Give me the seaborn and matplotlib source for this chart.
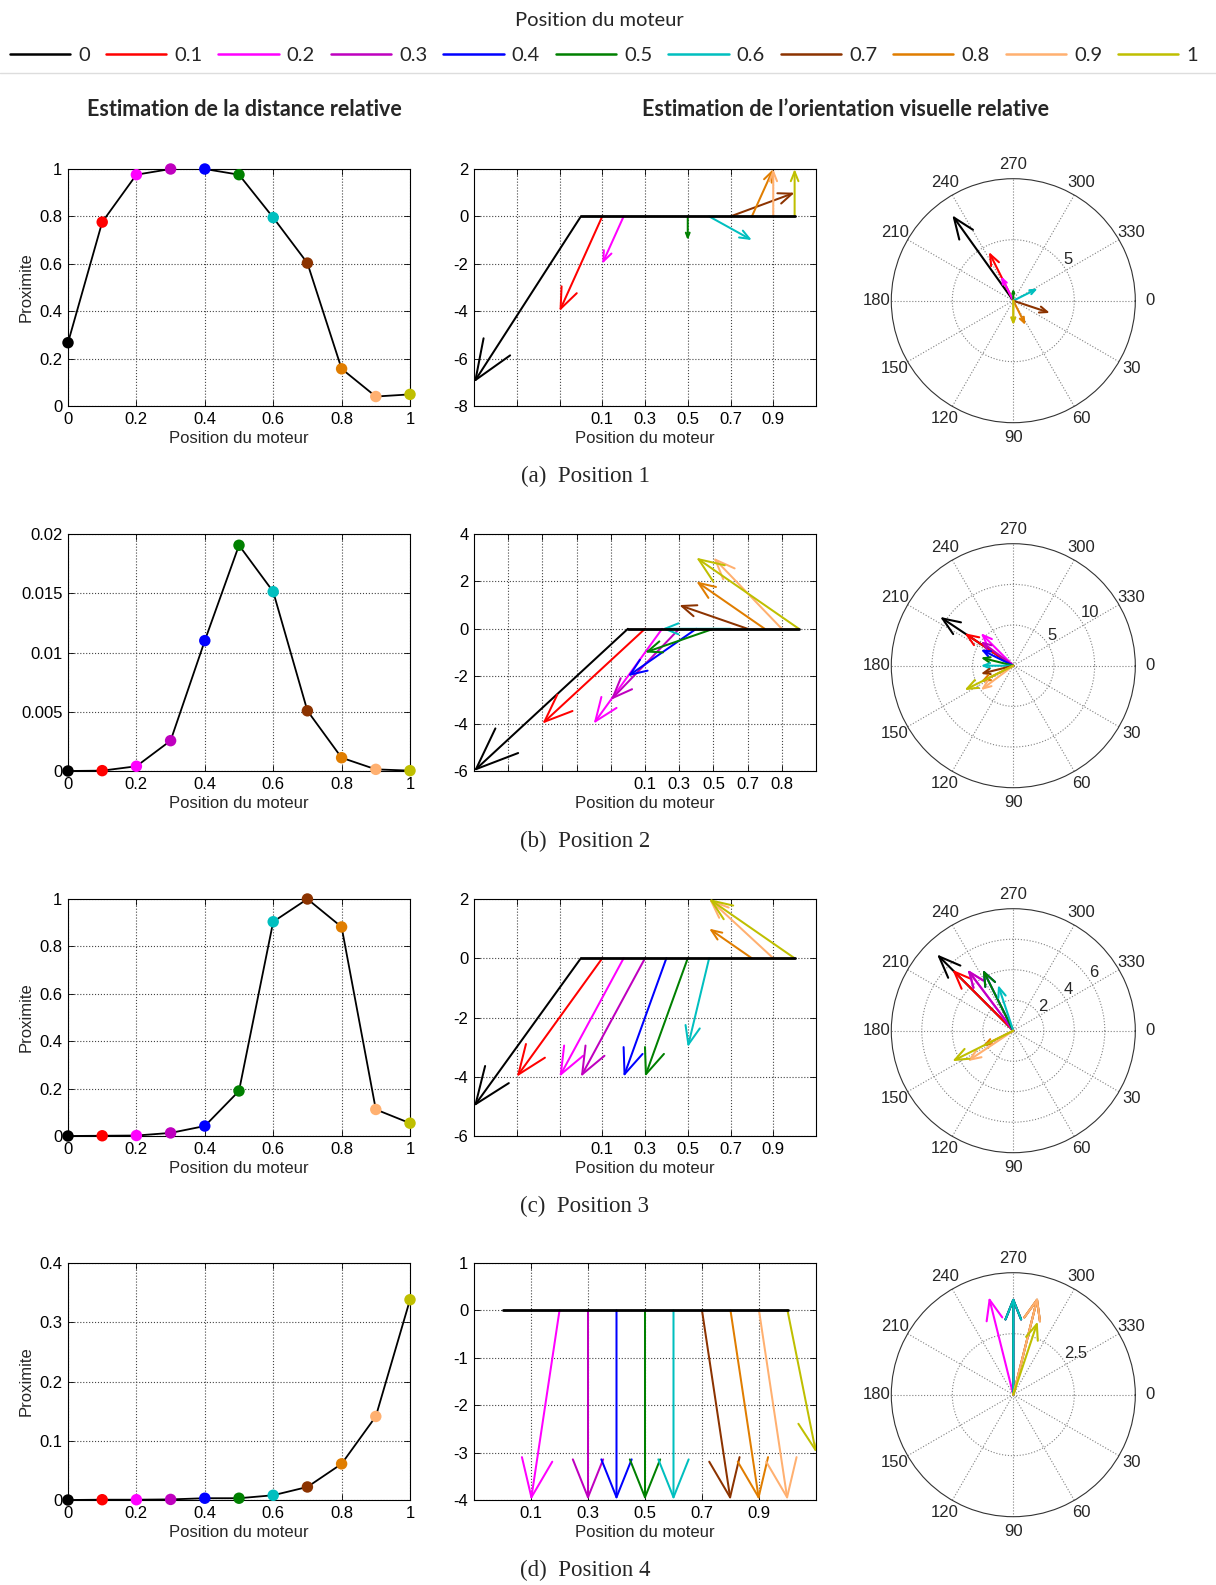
import matplotlib.pyplot as plt
import numpy as np
import seaborn as sns
from matplotlib.lines import Line2D

DPI = 100
FIG_W, FIG_H = 1216, 1585

# motor positions and their colours
positions = [0, 0.1, 0.2, 0.3, 0.4, 0.5, 0.6, 0.7, 0.8, 0.9, 1.0]
position_labels = ["0", "0.1", "0.2", "0.3", "0.4", "0.5", "0.6", "0.7", "0.8", "0.9", "1"]
colors = ["#000000", "#ff0000", "#ff00ff", "#bf00bf", "#0000ff", "#008000",
          "#00bfbf", "#8c3300", "#e07d00", "#ffb070", "#bfbf00"]

# relative distance estimation (proximity), one list per position of the target
proximity_1 = [0.267, 0.776, 0.976, 1.0, 1.0, 0.976, 0.795, 0.603, 0.157, 0.040, 0.049]
proximity_2 = [0.0, 0.00003, 0.0004, 0.00256, 0.0110, 0.01905, 0.01513, 0.00508,
               0.00112, 0.00014, 0.00003]
proximity_3 = [0.0, 0.001, 0.002, 0.013, 0.042, 0.19, 0.904, 1.0, 0.882, 0.112, 0.054]
proximity_4 = [0.0, 0.0005, 0.0005, 0.001, 0.003, 0.003, 0.008, 0.022, 0.061, 0.141, 0.338]

# relative visual orientation vectors (u lateral, v forward)
orient_u_1 = [-5, -2, -1, 0, 0, 0, 2, 3, 1, 0, 0]
orient_v_1 = [-7, -4, -2, 0, 0, -1, -1, 1, 2, 2, 2]
orient_u_2 = [-9, -6, -4, -4, -4, -4, -4, -4, -4, -4, -6]
orient_v_2 = [-6, -4, -4, -3, -2, -1, 0, 1, 2, 3, 3]
orient_u_3 = [-5, -4, -3, -3, -2, -2, -1, 0, -2, -3, -4]
orient_v_3 = [-5, -4, -4, -4, -4, -4, -3, 0, 1, 2, 2]
orient_u_4 = [0, 0, -1, 0, 0, 0, 0, 1, 1, 1, 1]
orient_v_4 = [0, 0, -4, -4, -4, -4, -4, -4, -4, -4, -3]

captions = ["(a)  Position 1", "(b)  Position 2", "(c)  Position 3", "(d)  Position 4"]

prox_ylims = [1.0, 0.02, 1.0, 0.4]
prox_yticks = [[0, 0.2, 0.4, 0.6, 0.8, 1], [0, 0.005, 0.01, 0.015, 0.02],
               [0, 0.2, 0.4, 0.6, 0.8, 1], [0, 0.1, 0.2, 0.3, 0.4]]
prox_ylabel = [True, False, True, True]

quiver_xlims = [(-0.5, 1.1), (-0.9, 1.1), (-0.5, 1.1), (-0.1, 1.1)]
quiver_ylims = [(-8, 2), (-6, 4), (-6, 2), (-4, 1)]
quiver_yticks = [[-8, -6, -4, -2, 0, 2], [-6, -4, -2, 0, 2, 4],
                 [-6, -4, -2, 0, 2], [-4, -3, -2, -1, 0, 1]]
quiver_xticks = [[-0.3, -0.1, 0.1, 0.3, 0.5, 0.7, 0.9],
                 [-0.7, -0.5, -0.3, -0.1, 0.1, 0.3, 0.5, 0.7, 0.9],
                 [-0.3, -0.1, 0.1, 0.3, 0.5, 0.7, 0.9],
                 [0.1, 0.3, 0.5, 0.7, 0.9]]
quiver_xticklabels = [["", "", "0.1", "0.3", "0.5", "0.7", "0.9"],
                      ["", "", "", "", "0.1", "0.3", "0.5", "0.7", "0.8"],
                      ["", "", "0.1", "0.3", "0.5", "0.7", "0.9"],
                      ["0.1", "0.3", "0.5", "0.7", "0.9"]]
ARROW_X_SCALE = 0.1

compass_rmax = [10, 15, 8, 5]
compass_rticks = [[5], [5, 10], [2, 4, 6], [2.5]]

AX_FONT = ["Liberation Sans", "DejaVu Sans"]
TITLE_FONT = ["Lato", "DejaVu Sans"]
SERIF_FONT = ["Liberation Serif", "DejaVu Serif"]

sns.set_style("ticks")
plt.rcParams["font.family"] = AX_FONT
plt.rcParams["axes.linewidth"] = 0.8

fig = plt.figure(figsize=(FIG_W / DPI, FIG_H / DPI), dpi=DPI)


def px_axes(left, top, width, height, **kw):
    return fig.add_axes([left / FIG_W, 1 - (top + height) / FIG_H,
                         width / FIG_W, height / FIG_H], **kw)


def draw_arrow(ax, x0, y0, x1, y1, color, lw=1.0):
    p0 = ax.transData.transform((x0, y0))
    p1 = ax.transData.transform((x1, y1))
    length_pt = np.hypot(*(p1 - p0)) * 72 / DPI
    if length_pt < 0.5:
        return
    hl = 0.2 * length_pt
    hw = 0.08 * length_pt
    ann = ax.annotate(
        "", xy=(x1, y1), xytext=(x0, y0), annotation_clip=False,
        arrowprops=dict(arrowstyle=f"->,head_length={hl:.3f},head_width={hw:.3f}",
                        color=color, lw=lw, shrinkA=0, shrinkB=0, mutation_scale=1),
        zorder=3)
    ann.arrow_patch.set_clip_box(ax.bbox)


def style_cartesian(ax):
    ax.grid(True, linestyle=":", color="#444444", linewidth=0.8)
    ax.tick_params(direction="in", length=4, width=0.6, top=True, right=True,
                   labelsize=12, pad=4, colors="black")
    for s in ax.spines.values():
        s.set_visible(True)
        s.set_linewidth(0.8)
        s.set_color("black")


row_tops = [169, 534, 899, 1263]
AX_H = 237

for i in range(4):
    top = row_tops[i]
    prox = [proximity_1, proximity_2, proximity_3, proximity_4][i]
    ou = [orient_u_1, orient_u_2, orient_u_3, orient_u_4][i]
    ov = [orient_v_1, orient_v_2, orient_v_3, orient_v_4][i]

    # left: proximity curve
    ax = px_axes(68, top, 342, AX_H)
    sns.lineplot(x=positions, y=prox, color="black", linewidth=1.3, ax=ax, zorder=2)
    sns.scatterplot(x=positions, y=prox, hue=position_labels, hue_order=position_labels,
                    palette=dict(zip(position_labels, colors)), s=68, linewidth=0,
                    legend=False, ax=ax, zorder=3, clip_on=False)
    ax.set_xlim(0, 1)
    ax.set_ylim(0, prox_ylims[i])
    ax.set_xticks([0, 0.2, 0.4, 0.6, 0.8, 1])
    ax.set_xticklabels(["0", "0.2", "0.4", "0.6", "0.8", "1"])
    ax.set_yticks(prox_yticks[i])
    ax.set_yticklabels([f"{t:g}" for t in prox_yticks[i]])
    style_cartesian(ax)
    ax.set_xlabel("Position du moteur", fontsize=12, labelpad=3)
    ax.set_ylabel("Proximite" if prox_ylabel[i] else "", fontsize=12, labelpad=4)

    # middle: orientation arrows along the motor axis
    ax = px_axes(474, top, 342, AX_H)
    ax.set_xlim(*quiver_xlims[i])
    ax.set_ylim(*quiver_ylims[i])
    ax.set_xticks(quiver_xticks[i])
    ax.set_xticklabels(quiver_xticklabels[i])
    ax.set_yticks(quiver_yticks[i])
    ax.set_yticklabels([str(t) for t in quiver_yticks[i]])
    style_cartesian(ax)
    ax.set_xlabel("Position du moteur", fontsize=12, labelpad=3)
    sns.lineplot(x=[positions[0], positions[-1]], y=[0, 0], color="black",
                 linewidth=2.0, ax=ax, zorder=4)
    for p, uu, vv, c in zip(positions, ou, ov, colors):
        draw_arrow(ax, p, 0, p + ARROW_X_SCALE * uu, vv, c, lw=1.45)

    # right: compass plot
    R = 122
    cy = top + 131.7
    pax = px_axes(1013.3 - R, cy - R, 2 * R, 2 * R, projection="polar")
    pax.set_theta_zero_location("E")
    pax.set_theta_direction(-1)
    pax.set_rlim(0, compass_rmax[i])
    pax.set_rticks(compass_rticks[i])
    pax.set_yticklabels([f"{t:g}" for t in compass_rticks[i]], fontsize=12)
    pax.set_thetagrids(range(0, 360, 30), labels=[str(a) for a in range(0, 360, 30)],
                       fontsize=12)
    pax.set_rlabel_position(326)
    pax.tick_params(axis="x", pad=0)
    pax.grid(True, linestyle=":", color="#808080", linewidth=0.8)
    pax.spines["polar"].set_color("#333333")
    pax.spines["polar"].set_linewidth(0.8)
    for uu, vv, c in zip(ou, ov, colors):
        r = np.hypot(uu, vv)
        th = np.arctan2(vv, uu)
        draw_arrow(pax, th, 0, th, r, c, lw=1.5)

    # caption
    fig.text(585 / FIG_W, 1 - (top + 307) / FIG_H, captions[i], ha="center", va="center",
             fontsize=16.5, family=SERIF_FONT)

# header, legend and column titles
fig.text(599 / FIG_W, 1 - 20 / FIG_H, "Position du moteur", ha="center", va="center",
         fontsize=14.5, family=TITLE_FONT)
handles = [Line2D([], [], color=c, lw=1.8) for c in colors]
fig.legend(handles, position_labels, loc="center", ncol=11, mode="expand",
           bbox_to_anchor=(10 / FIG_W, 1 - 67 / FIG_H, 1188 / FIG_W, 24 / FIG_H),
           frameon=False, handlelength=3.0, handletextpad=0.4, borderpad=0,
           borderaxespad=0, prop=dict(family=TITLE_FONT, size=14.5))
fig.add_artist(Line2D([0, 1], [1 - 73 / FIG_H, 1 - 73 / FIG_H], transform=fig.transFigure,
                      color="#dddddd", lw=1))
fig.text(244 / FIG_W, 1 - 109 / FIG_H, "Estimation de la distance relative", ha="center",
         va="center", fontsize=15.5, fontweight="bold", family=TITLE_FONT)
fig.text(845 / FIG_W, 1 - 109 / FIG_H, "Estimation de l\u2019orientation visuelle relative",
         ha="center", va="center", fontsize=15.5, fontweight="bold", family=TITLE_FONT)

fig.savefig("out.png", dpi=DPI)
